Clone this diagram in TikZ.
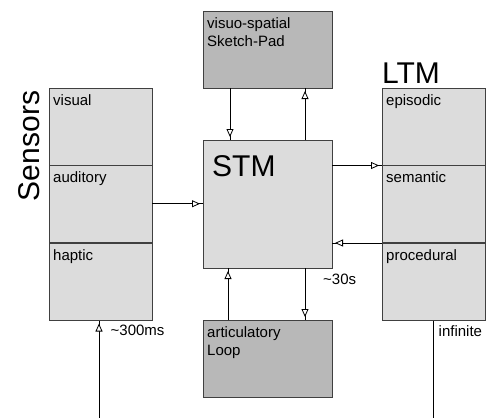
\documentclass[tikz,border=0pt]{standalone}
\usepackage{fontspec}
\setmainfont{Liberation Sans}
\usepackage{tikz}
\usetikzlibrary{arrows.meta, positioning}
\definecolor{storegray}{HTML}{DCDCDC}
\definecolor{buffergray}{HTML}{B8B8B8}
\definecolor{edgegray}{HTML}{404040}

\begin{document}
\begin{tikzpicture}[
    x=1pt, y=-1pt,
    store/.style={rectangle, draw=edgegray, fill=storegray, line width=0.8pt,
                  minimum width=103pt, minimum height=77.5pt, inner sep=0pt,
                  outer sep=0pt, anchor=north west},
    buffer/.style={store, fill=buffergray, minimum width=129pt, minimum height=77pt},
    part/.style={label={[anchor=base west, inner sep=0pt, xshift=4pt, yshift=-17pt,
                  font=\fontsize{15}{18}\selectfont]north west:#1}},
    title/.style={font=\fontsize{30}{32}\selectfont, inner sep=0pt},
    note/.style={font=\fontsize{15}{18}\selectfont, inner sep=0pt, anchor=west},
    flow/.style={line width=0.8pt,
                 postaction={draw, shorten >=3pt,
                             -{Triangle[open, length=8pt, width=7pt, fill=white]}}},
]
    \useasboundingbox (0,0) rectangle (488,418);

    % Sensors
    \node[store, part=visual] (visual) at (49,88) {};
    \node[store, part=auditory] (auditory) at (49,165) {};
    \node[store, part=haptic] (haptic) at (49,243) {};
    \node[title, rotate=90] (senstitle) at (29,146) {Sensors};

    % LTM
    \node[store, part=episodic] (episodic) at (382,88) {};
    \node[store, part=semantic] (semantic) at (382,165) {};
    \node[store, part=procedural] (procedural) at (382,243) {};
    \node[title, anchor=base west] (ltmtitle) at ([yshift=5pt]episodic.north west) {LTM};

    % STM and its buffers
    \node[buffer, part={\vtop{\hbox{visuo-spatial}\hbox{Sketch-Pad}}}] (sketch) at (203,11) {};
    \node[store, minimum width=129pt, minimum height=128pt] (stm) at (203,140) {};
    \node[title, anchor=base west] (stmtitle) at ([xshift=9pt, yshift=-36pt]stm.north west) {STM};
    \node[buffer, part={\vtop{\hbox{articulatory}\hbox{Loop}}}] (loop) at (203,320) {};

    \coordinate (percept) at (99,418);
    \coordinate (recall) at (433,418);

    % Flows
    \draw[flow] ([xshift=27pt]sketch.south west) -- ([xshift=27pt]stm.north west);
    \draw[flow] ([xshift=-27pt]stm.north east) -- ([xshift=-27pt]sketch.south east);
    \draw[flow] (auditory.east) -- (stm.west |- auditory.east);
    \draw[flow] (stm.east |- episodic.south west) -- (episodic.south west);
    \draw[flow] (procedural.north west) -- (stm.east |- procedural.north west);
    \draw[flow] ([xshift=25pt]loop.north west) -- ([xshift=25pt]stm.south west);
    \draw[flow] ([xshift=-27pt]stm.south east) -- ([xshift=-27pt]loop.north east);
    \draw[flow] (percept) -- (percept |- haptic.south);
    \draw[line width=0.8pt] (recall |- procedural.south) -- (recall);

    % Durations
    \node[note] (sensdecay) at ([xshift=10pt, yshift=-10pt]haptic.south) {\textasciitilde 300ms};
    \node[note] (stmdecay) at ([xshift=-9pt, yshift=-11pt]stm.south east) {\textasciitilde 30s};
    \node[note] (ltmdecay) at ([xshift=5pt, yshift=-11pt]procedural.south) {infinite};
\end{tikzpicture}
\end{document}
